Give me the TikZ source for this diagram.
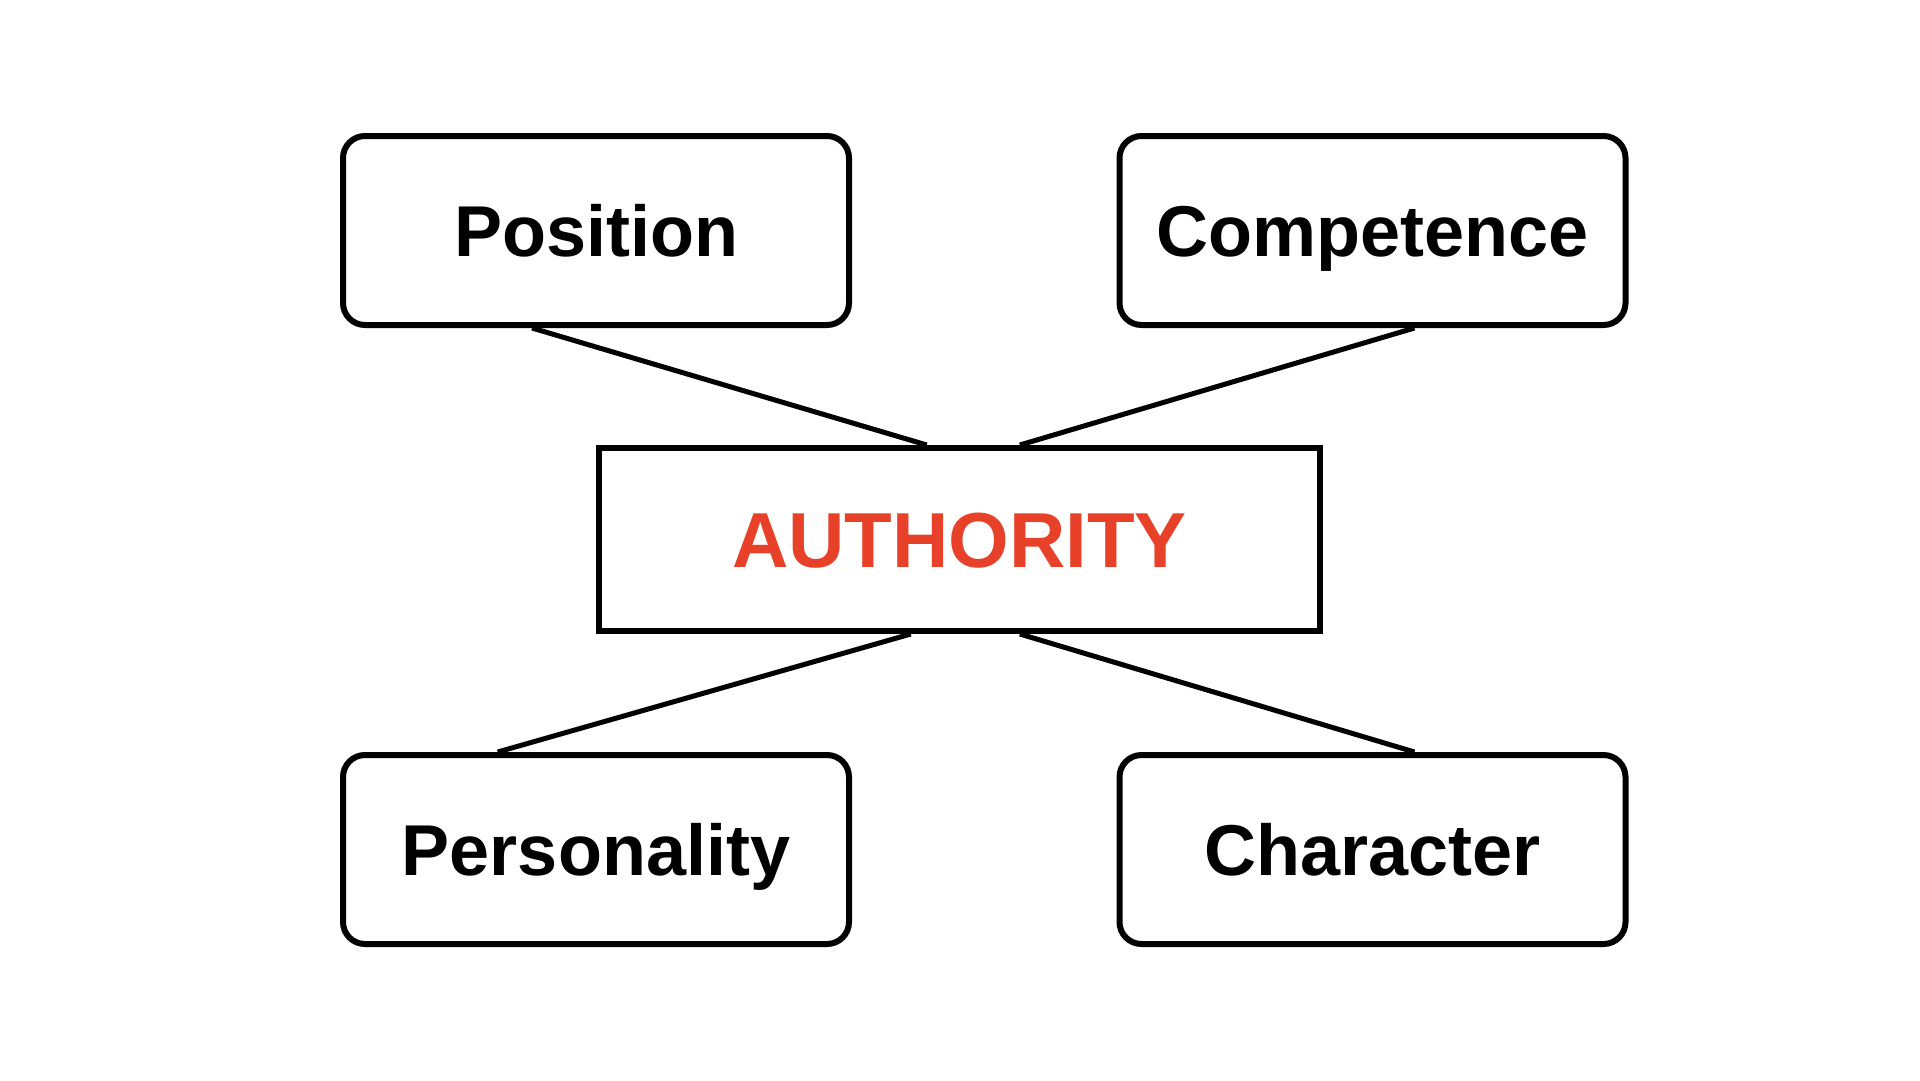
\documentclass[tikz,border=0pt]{standalone}
\usepackage{fontspec}
\setmainfont{Liberation Sans}
\usetikzlibrary{calc}
\definecolor{authred}{HTML}{E8412A}
\begin{document}
\begin{tikzpicture}[x=1pt,y=-1pt,
  box/.style={draw, line width=6pt, rounded corners=22pt, minimum width=506pt, minimum height=189pt, inner sep=0pt,
    font=\bfseries\fontsize{72}{80}\selectfont, text height=52pt, text depth=0pt},
  hub/.style={draw, line width=6pt, minimum width=721pt, minimum height=183pt, inner sep=0pt, text=authred,
    font=\bfseries\fontsize{78}{86}\selectfont, text height=56pt, text depth=0pt},
  link/.style={line width=5pt}]
\fill[white] (0,0) rectangle (1920,1080);
\useasboundingbox (0,0) rectangle (1920,1080);
\node[box] (pos) at (596,230.5) {Position};
\node[box] (comp) at (1372.5,230.5) {Competence};
\node[hub] (auth) at (959.5,539.5) {AUTHORITY};
\node[box] (pers) at (596,849.5) {Personality};
\node[box] (char) at (1372.5,849.5) {Character};
\draw[link] ($(pos.south west)!0.375!(pos.south east)$) -- ($(auth.north west)!0.455!(auth.north east)$);
\draw[link] ($(comp.south west)!0.582!(comp.south east)$) -- ($(auth.north west)!0.583!(auth.north east)$);
\draw[link] ($(auth.south west)!0.433!(auth.south east)$) -- ($(pers.north west)!0.308!(pers.north east)$);
\draw[link] ($(auth.south west)!0.583!(auth.south east)$) -- ($(char.north west)!0.582!(char.north east)$);
\end{tikzpicture}
\end{document}
